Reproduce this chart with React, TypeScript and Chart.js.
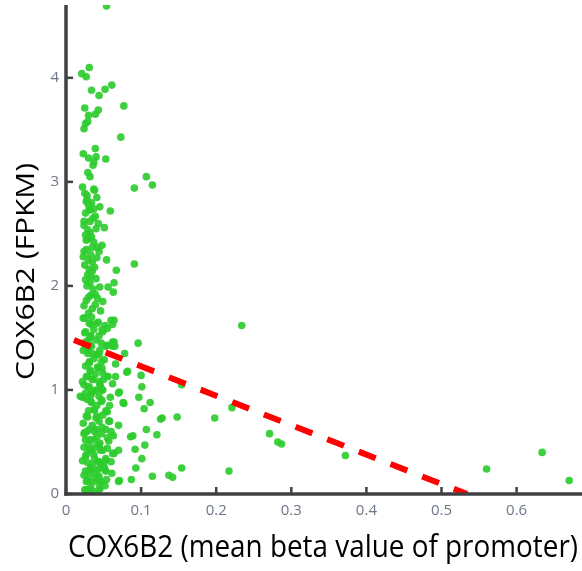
import React, { useEffect, useRef } from "react";
import { Chart, registerables } from "chart.js";

Chart.register(...registerables);

// COX6B2 mean beta value of promoter (x) vs COX6B2 FPKM (y)
const meanBeta = [
  0.054, 0.031, 0.021, 0.027, 0.061, 0.052, 0.034, 0.044, 0.077, 0.025, 0.043, 0.039, 0.030, 0.029, 0.026, 0.024,
  0.073, 0.039, 0.023, 0.030, 0.040, 0.053, 0.037, 0.036, 0.029, 0.032, 0.107, 0.115, 0.091, 0.037, 0.025, 0.038,
  0.028, 0.034, 0.045, 0.032, 0.059, 0.027, 0.031, 0.037, 0.039, 0.032, 0.043, 0.051, 0.024, 0.029, 0.032, 0.026,
  0.034, 0.027, 0.048, 0.042, 0.035, 0.027, 0.044, 0.024, 0.023, 0.030, 0.035, 0.054, 0.091, 0.067, 0.031, 0.035,
  0.029, 0.033, 0.040, 0.026, 0.032, 0.064, 0.045, 0.056, 0.063, 0.039, 0.033, 0.030, 0.049, 0.024, 0.039, 0.030,
  0.023, 0.034, 0.043, 0.064, 0.062, 0.055, 0.048, 0.037, 0.026, 0.033, 0.044, 0.030, 0.055, 0.065, 0.096, 0.026,
  0.025, 0.041, 0.034, 0.060, 0.049, 0.025, 0.032, 0.027, 0.034, 0.062, 0.078, 0.029, 0.041, 0.031, 0.047, 0.032,
  0.043, 0.049, 0.056, 0.027, 0.036, 0.062, 0.045, 0.029, 0.049, 0.071, 0.034, 0.082,
  0.026, 0.032, 0.029, 0.035, 0.044, 0.053, 0.062, 0.064, 0.066, 0.031, 0.042, 0.048, 0.033, 0.081, 0.100, 0.055,
  0.029, 0.035, 0.044, 0.024, 0.031, 0.101, 0.040, 0.048, 0.070, 0.026, 0.033, 0.044, 0.022, 0.097, 0.112, 0.077,
  0.048, 0.033, 0.104, 0.037, 0.055, 0.128, 0.029, 0.040, 0.044, 0.057, 0.070, 0.107, 0.031, 0.040, 0.053, 0.024,
  0.121, 0.086, 0.055, 0.037, 0.026, 0.044, 0.024, 0.105, 0.070, 0.092, 0.031, 0.046, 0.064, 0.037, 0.026, 0.101,
  0.053, 0.044, 0.029, 0.035, 0.051, 0.093, 0.042, 0.026, 0.053, 0.037, 0.044, 0.029, 0.115, 0.137, 0.142, 0.087,
  0.070, 0.044, 0.033, 0.027, 0.044, 0.031,
  0.034, 0.047, 0.058, 0.076, 0.038, 0.027, 0.041, 0.049, 0.058, 0.025, 0.038, 0.047, 0.060, 0.032, 0.045, 0.034,
  0.049, 0.062, 0.027, 0.038, 0.043, 0.052, 0.060, 0.032, 0.045, 0.052, 0.027, 0.036, 0.047, 0.071, 0.032, 0.045,
  0.025, 0.019, 0.024,
  0.022, 0.028, 0.041, 0.030, 0.026, 0.036, 0.024, 0.040, 0.029, 0.037, 0.033, 0.041, 0.025, 0.038, 0.028, 0.036,
  0.042, 0.027, 0.035, 0.046, 0.031, 0.052, 0.040, 0.047, 0.023, 0.037, 0.051, 0.026, 0.039, 0.022, 0.046, 0.038,
  0.028, 0.041, 0.030, 0.053, 0.023, 0.035, 0.048, 0.028, 0.041, 0.030, 0.039, 0.055, 0.022, 0.033, 0.048, 0.040,
  0.030, 0.054, 0.038, 0.052, 0.024, 0.061, 0.057, 0.063, 0.066, 0.059, 0.050, 0.045,
  0.154, 0.148, 0.154, 0.126, 0.089, 0.234, 0.198, 0.221, 0.271, 0.282, 0.287, 0.372, 0.217, 0.560, 0.634, 0.670,
];

const fpkm = [
  4.69, 4.10, 4.04, 4.01, 3.93, 3.89, 3.88, 3.83, 3.73, 3.71, 3.69, 3.65, 3.64, 3.58, 3.56, 3.51,
  3.43, 3.32, 3.27, 3.23, 3.24, 3.22, 3.19, 3.16, 3.09, 3.05, 3.05, 2.97, 2.94, 2.93, 2.89, 2.92,
  2.83, 2.80, 2.76, 2.73, 2.72, 2.81, 2.74, 2.74, 2.67, 2.62, 2.60, 2.56, 2.58, 2.54, 2.51, 2.49,
  2.47, 2.44, 2.39, 2.37, 2.37, 2.35, 2.33, 2.33, 2.28, 2.25, 2.23, 2.25, 2.21, 2.15, 2.16, 2.14,
  2.11, 2.09, 2.07, 2.06, 2.03, 2.03, 1.99, 1.99, 1.94, 1.92, 1.91, 1.89, 1.85, 1.81, 1.82, 1.74,
  1.69, 1.70, 1.65, 1.67, 1.63, 1.59, 1.58, 1.58, 1.56, 1.52, 1.52, 1.48, 1.43, 1.42, 1.45, 1.42,
  1.69, 1.64, 1.63, 1.67, 1.56, 1.55, 1.51, 1.45, 1.42, 1.46, 1.35, 1.35, 1.34, 1.27, 1.27, 1.19,
  1.21, 1.16, 1.13, 1.13, 1.10, 1.06, 1.06, 1.03, 1.00, 0.98, 0.97, 1.18,
  1.46, 1.43, 1.39, 1.35, 1.34, 1.42, 1.42, 1.46, 1.25, 1.26, 1.22, 1.21, 1.18, 1.17, 1.14, 1.13,
  1.13, 1.10, 1.08, 1.05, 1.03, 1.03, 1.00, 1.00, 0.97, 0.97, 0.95, 0.94, 0.93, 0.93, 0.88, 0.87,
  0.90, 0.89, 0.82, 0.81, 0.79, 0.73, 0.74, 0.73, 0.70, 0.70, 0.66, 0.62, 0.62, 0.62, 0.62, 0.58,
  0.57, 0.55, 0.54, 0.52, 0.52, 0.47, 0.45, 0.47, 0.42, 0.43, 0.42, 0.42, 0.39, 0.38, 0.36, 0.34,
  0.34, 0.31, 0.30, 0.28, 0.26, 0.25, 0.23, 0.22, 0.22, 0.20, 0.17, 0.12, 0.17, 0.18, 0.16, 0.14,
  0.12, 0.10, 0.07, 0.04, 0.04, 0.01,
  0.88, 0.89, 0.85, 0.88, 0.81, 0.75, 0.75, 0.76, 0.70, 0.59, 0.60, 0.58, 0.60, 0.52, 0.49, 0.42,
  0.42, 0.39, 0.38, 0.34, 0.31, 0.32, 0.31, 0.23, 0.25, 0.23, 0.12, 0.12, 0.12, 0.13, 0.04, 0.05,
  0.04, 0.94, 0.93,
  2.95, 2.87, 2.85, 2.78, 2.70, 2.65, 2.62, 2.55, 2.45, 2.42, 2.30, 2.27, 2.20, 2.18, 2.00, 1.97,
  1.88, 1.86, 1.78, 1.76, 1.64, 1.62, 1.48, 1.45, 1.38, 1.30, 1.29, 1.23, 1.15, 1.08, 1.03, 0.99,
  0.91, 0.85, 0.80, 0.80, 0.68, 0.66, 0.64, 0.60, 0.55, 0.47, 0.45, 0.44, 0.32, 0.25, 0.28, 0.15,
  0.17, 0.14, 0.02, 0.08, 0.18, 0.20, 0.51, 0.56, 1.13, 0.93, 1.10, 1.38,
  1.05, 0.74, 0.25, 0.72, 0.56, 1.62, 0.73, 0.83, 0.58, 0.50, 0.48, 0.37, 0.22, 0.24, 0.40, 0.13,
];

// regression line end points
const trendBeta = [0.0106, 0.534];
const trendFpkm = [1.48, 0];

const xTickValues = [0, 0.1, 0.2, 0.3, 0.4, 0.5, 0.6];
const yTickValues = [0, 1, 2, 3, 4];

const xTitle = "COX6B2 (mean beta value of promoter)";
const yTitle = "COX6B2 (FPKM)";

const W = 582;
const H = 571;

function drawFitted(
  ctx: CanvasRenderingContext2D,
  text: string,
  cx: number,
  cy: number,
  targetW: number,
  capH: number,
  rotate: boolean
) {
  const family = '"Open Sans", "Liberation Sans", sans-serif';
  ctx.font = `100px ${family}`;
  const capRef = ctx.measureText("H").actualBoundingBoxAscent || 71.4;
  const size = (capH / capRef) * 100;
  ctx.font = `${size}px ${family}`;
  const w = ctx.measureText(text).width;
  const sx = targetW / w;
  ctx.save();
  ctx.translate(cx, cy);
  if (rotate) ctx.rotate(-Math.PI / 2);
  ctx.scale(sx, 1);
  ctx.fillStyle = "#000000";
  ctx.textAlign = "center";
  ctx.textBaseline = "alphabetic";
  ctx.fillText(text, 0, capH / 2);
  ctx.restore();
}

const axesPlugin = {
  id: "customAxes",
  afterDatasetsDraw(chart: any) {
    const { ctx, chartArea, scales } = chart;
    const { left, top, bottom } = chartArea;
    const xs = scales.x;
    const ys = scales.y;
    ctx.save();
    ctx.strokeStyle = "#404040";
    ctx.lineCap = "butt";
    ctx.lineWidth = 3.5;
    ctx.beginPath();
    ctx.moveTo(left, top);
    ctx.lineTo(left, bottom + 1.75);
    ctx.stroke();
    ctx.beginPath();
    ctx.moveTo(left - 1.75, bottom);
    ctx.lineTo(W, bottom);
    ctx.stroke();
    ctx.lineWidth = 2.5;
    yTickValues.forEach((v) => {
      const py = ys.getPixelForValue(v);
      ctx.beginPath();
      ctx.moveTo(left, py);
      ctx.lineTo(left + 7, py);
      ctx.stroke();
    });
    xTickValues.forEach((v) => {
      const px = xs.getPixelForValue(v);
      ctx.beginPath();
      ctx.moveTo(px, bottom);
      ctx.lineTo(px, bottom - 7);
      ctx.stroke();
    });
    ctx.restore();
    drawFitted(ctx, xTitle, 323, 546, 510, 22, false);
    drawFitted(ctx, yTitle, 24.5, 271.5, 217, 19, true);
  },
};

export default function App() {
  const canvasRef = useRef<HTMLCanvasElement | null>(null);

  useEffect(() => {
    const canvas = canvasRef.current;
    if (!canvas) return;
    const points = meanBeta.map((b, i) => ({ x: b, y: fpkm[i] }));
    const trend = trendBeta.map((b, i) => ({ x: b, y: trendFpkm[i] }));
    const tickFont = { family: '"Open Sans", sans-serif', size: 15 };
    const tickColor = "#6c7686";

    const chart = new Chart(canvas, {
      type: "scatter",
      data: {
        datasets: [
          {
            type: "line",
            data: trend,
            borderColor: "#ff0000",
            borderWidth: 6,
            borderDash: [18, 16],
            pointRadius: 0,
            fill: false,
            order: 0,
          } as any,
          {
            type: "scatter",
            data: points,
            backgroundColor: "rgba(46, 204, 46, 0.92)",
            borderWidth: 0,
            pointRadius: 3.8,
            pointHoverRadius: 3.8,
            order: 1,
          } as any,
        ],
      },
      options: {
        animation: false,
        responsive: false,
        devicePixelRatio: 1,
        layout: { padding: { top: 5, right: 0, left: 0, bottom: 0 } },
        plugins: {
          legend: { display: false },
          tooltip: { enabled: false },
        },
        events: [],
        scales: {
          x: {
            type: "linear",
            min: 0,
            max: 0.682,
            grid: { display: false, drawTicks: false },
            border: { display: false },
            ticks: {
              font: tickFont,
              color: tickColor,
              padding: 8,
              maxRotation: 0,
              callback: (v: any) => String(v),
            },
            afterBuildTicks: (scale: any) => {
              scale.ticks = xTickValues.map((v) => ({ value: v }));
            },
            afterFit: (scale: any) => {
              scale.height = 77;
              scale.paddingLeft = 0;
              scale.paddingRight = 0;
            },
          },
          y: {
            type: "linear",
            min: 0,
            max: 4.7,
            grid: { display: false, drawTicks: false },
            border: { display: false },
            ticks: {
              font: tickFont,
              color: tickColor,
              padding: 7,
              callback: (v: any) => String(v),
            },
            afterBuildTicks: (scale: any) => {
              scale.ticks = yTickValues.map((v) => ({ value: v }));
            },
            afterFit: (scale: any) => {
              scale.width = 66;
              scale.paddingTop = 0;
              scale.paddingBottom = 0;
            },
          },
        },
      } as any,
      plugins: [axesPlugin],
    });
    return () => chart.destroy();
  }, []);

  return (
    <div style={{ position: "absolute", left: 0, top: 0, width: W, height: H, background: "#ffffff" }}>
      <canvas ref={canvasRef} width={W} height={H} style={{ display: "block", width: W, height: H }} />
    </div>
  );
}
